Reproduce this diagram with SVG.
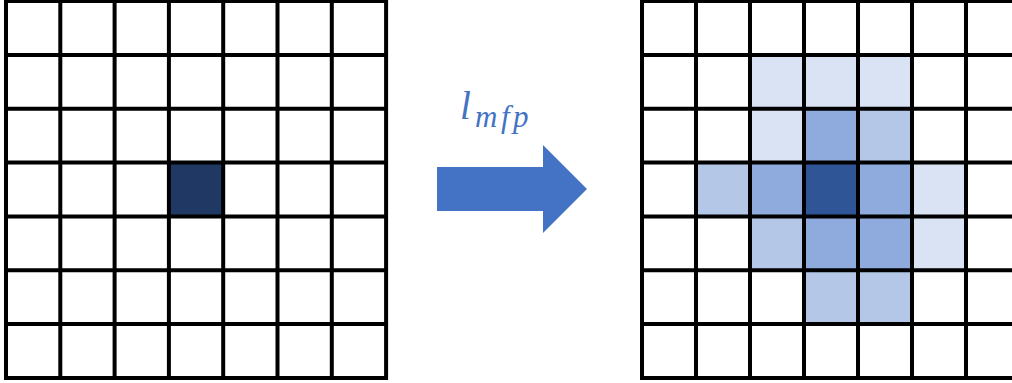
<svg xmlns="http://www.w3.org/2000/svg" width="1012" height="383" viewBox="0 0 1012 383">
<defs>
<style>
.g{stroke:#000;stroke-width:4;fill:none;stroke-linecap:square}
.c0{fill:#DAE3F3}.c1{fill:#B4C7E7}.c2{fill:#8FAADC}.c3{fill:#2F5597}
.lbl{font-family:"Liberation Serif","DejaVu Serif",serif;font-style:italic;fill:#4472C4}
</style>
</defs>
<rect width="1012" height="383" fill="#fff"/>
<g id="left-grid">
<rect x="168.9" y="162.6" width="54.3" height="53.8" fill="#203864"/>
<path class="g" d="M6,1V378M60.3,1V378M114.6,1V378M168.9,1V378M223.2,1V378M277.5,1V378M331.8,1V378M386.1,1V378M6,1H386.1M6,54.9H386.1M6,108.7H386.1M6,162.6H386.1M6,216.4H386.1M6,270.3H386.1M6,324.1H386.1M6,378H386.1"/>
</g>
<g id="arrow">
<path d="M437,167H543V145L587,189L543,233V211H437Z" fill="#4472C4"/>
</g>
<g id="label">
<text class="lbl" x="460" y="119" font-size="39">l</text>
<text class="lbl" x="475" y="127" font-size="31" letter-spacing="3.5">mfp</text>
</g>
<g id="right-grid">
<rect class="c0" x="750" y="54.9" width="162" height="53.8"/>
<rect class="c0" x="750" y="108.7" width="54" height="53.9"/>
<rect class="c2" x="804" y="108.7" width="54" height="53.9"/>
<rect class="c1" x="858" y="108.7" width="54" height="53.9"/>
<rect class="c1" x="696" y="162.6" width="54" height="53.8"/>
<rect class="c2" x="750" y="162.6" width="54" height="53.8"/>
<rect class="c3" x="804" y="162.6" width="54" height="53.8"/>
<rect class="c2" x="858" y="162.6" width="54" height="53.8"/>
<rect class="c0" x="912" y="162.6" width="54" height="107.7"/>
<rect class="c1" x="750" y="216.4" width="54" height="53.9"/>
<rect class="c2" x="804" y="216.4" width="108" height="53.9"/>
<rect class="c1" x="804" y="270.3" width="108" height="53.8"/>
<path class="g" d="M642,1V378M696,1V378M750,1V378M804,1V378M858,1V378M912,1V378M966,1V378M1020,1V378M642,1H1020M642,54.9H1020M642,108.7H1020M642,162.6H1020M642,216.4H1020M642,270.3H1020M642,324.1H1020M642,378H1020"/>
</g>
</svg>
